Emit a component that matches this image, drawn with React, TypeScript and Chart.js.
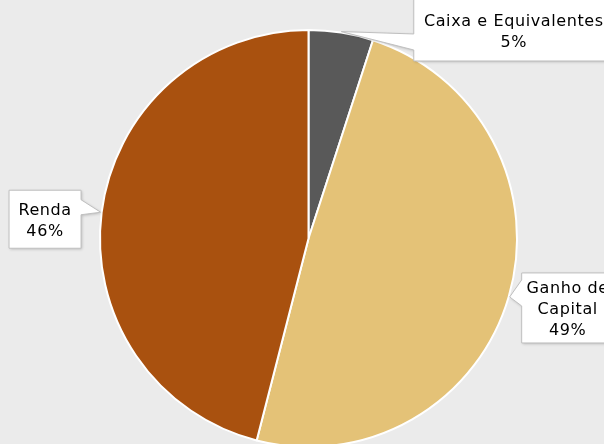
import React, { useEffect, useRef } from "react";
import { Chart, registerables } from "chart.js";
Chart.register(...registerables);

// ---- data ----
const categories = ["Caixa e Equivalentes", "Ganho de Capital", "Renda"];
const values = [5, 49, 46];
const labelLines = [["Caixa e Equivalentes"], ["Ganho de", "Capital"], ["Renda"]];
const colors = ["#595959", "#E4C277", "#A9510F"];

// ---- callout layout (style only: offsets from slice tip) ----
const calloutDx = [172.5, 58, -55.6];
const calloutDy = [-1.6, 11, 7];
const calloutW = [200, 92, 72];
const calloutH = [62, 70, 58];
const calloutBaseOff = [12, -15, -12];
const calloutBaseHalf = [8, 13, 7.5];

const FONT = '16px "DejaVu Sans", sans-serif';
const LETTER_SPACING = "0.6px";
const LINE_H = 21;
const TEXT_SHIFT = 2;

const calloutPlugin = {
  id: "callouts",
  afterDraw(chart: any) {
    const ctx = chart.ctx;
    const meta = chart.getDatasetMeta(0);
    const total = values.reduce((a, b) => a + b, 0);
    meta.data.forEach((arc: any, i: number) => {
      const p = arc.getProps(["x", "y", "startAngle", "endAngle", "outerRadius"], true);
      const mid = (p.startAngle + p.endAngle) / 2;
      const r = p.outerRadius + 1;
      const tx = p.x + Math.cos(mid) * r;
      const ty = p.y + Math.sin(mid) * r;
      const cx = tx + calloutDx[i];
      const cy = ty + calloutDy[i];
      const w = calloutW[i];
      const h = calloutH[i];
      const L = cx - w / 2, R = cx + w / 2, T = cy - h / 2, B = cy + h / 2;
      const bc = cy + calloutBaseOff[i];
      const b1 = bc - calloutBaseHalf[i];
      const b2 = bc + calloutBaseHalf[i];
      ctx.save();
      ctx.beginPath();
      if (tx < L) {
        ctx.moveTo(L, T);
        ctx.lineTo(R, T);
        ctx.lineTo(R, B);
        ctx.lineTo(L, B);
        ctx.lineTo(L, b2);
        ctx.lineTo(tx, ty);
        ctx.lineTo(L, b1);
        ctx.closePath();
      } else {
        ctx.moveTo(L, T);
        ctx.lineTo(R, T);
        ctx.lineTo(R, b1);
        ctx.lineTo(tx, ty);
        ctx.lineTo(R, b2);
        ctx.lineTo(R, B);
        ctx.lineTo(L, B);
        ctx.closePath();
      }
      ctx.shadowColor = "rgba(0,0,0,0.22)";
      ctx.shadowBlur = 3;
      ctx.shadowOffsetX = 1;
      ctx.shadowOffsetY = 1;
      ctx.fillStyle = "#FFFFFF";
      ctx.fill();
      ctx.shadowColor = "transparent";
      ctx.strokeStyle = "#BFBFBF";
      ctx.lineWidth = 1;
      ctx.stroke();

      const pct = Math.round((values[i] / total) * 100) + "%";
      const lines = [...labelLines[i], pct];
      ctx.fillStyle = "#000000";
      ctx.font = FONT;
      try { (ctx as any).letterSpacing = LETTER_SPACING; } catch (e) {}
      ctx.textAlign = "center";
      ctx.textBaseline = "middle";
      const startY = cy - ((lines.length - 1) * LINE_H) / 2 + TEXT_SHIFT;
      lines.forEach((t, k) => ctx.fillText(t, cx, startY + k * LINE_H));
      ctx.restore();
    });
  },
};

export default function App() {
  const ref = useRef<HTMLCanvasElement | null>(null);
  useEffect(() => {
    if (!ref.current) return;
    const chart = new Chart(ref.current, {
      type: "pie",
      data: {
        labels: categories,
        datasets: [
          {
            data: values,
            backgroundColor: colors,
            borderColor: "#FFFFFF",
            borderWidth: 2,
          },
        ],
      },
      options: {
        responsive: false,
        animation: false,
        layout: { padding: { left: 99, right: 86, top: 29, bottom: 12 } },
        plugins: {
          legend: { display: false },
          tooltip: { enabled: false },
        },
      },
      plugins: [calloutPlugin],
    });
    return () => chart.destroy();
  }, []);
  return (
    <div
      style={{
        position: "fixed",
        left: 0,
        top: 0,
        width: 604,
        height: 444,
        overflow: "hidden",
        background: "#EBEBEB",
      }}
    >
      <canvas ref={ref} width={604} height={460} style={{ display: "block" }} />
    </div>
  );
}
